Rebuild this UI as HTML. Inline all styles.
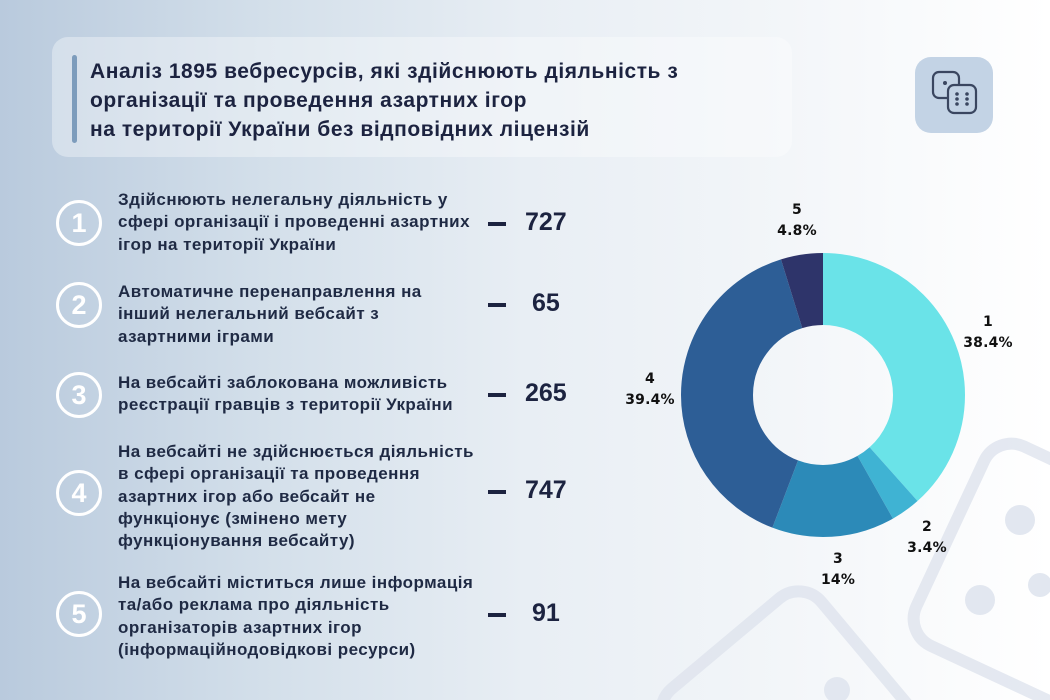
<!DOCTYPE html>
<html><head><meta charset="utf-8"><style>
html,body{margin:0;padding:0;width:1050px;height:700px;overflow:hidden}
body{position:relative;font-family:"Liberation Sans","DejaVu Sans",sans-serif;color:#1c2340;
background:linear-gradient(90deg,#b9cadd 0%,#d3dfea 25%,#e8eef4 50%,#f3f6f9 75%,#ffffff 100%);}
.hdr{position:absolute;left:52px;top:37px;width:740px;height:120px;border-radius:16px;background:rgba(255,255,255,0.35)}
.bar{position:absolute;left:72px;top:55px;width:5px;height:88px;border-radius:3px;background:#7d9cbc}
.title{position:absolute;left:90px;top:57px;font-size:21px;letter-spacing:0.55px;font-weight:bold;line-height:29px;color:#1c2340;white-space:nowrap}
.t{position:absolute;left:118px;font-size:17px;letter-spacing:0.45px;font-weight:bold;line-height:22.3px;color:#1f2a44;white-space:nowrap}
.c{position:absolute;left:56px;width:40px;height:40px;border:3px solid #fff;border-radius:50%;color:#fff;font-size:27px;font-weight:bold;text-align:center;line-height:40px}
.d{position:absolute;left:488px;width:18px;height:4px;background:#1c2340}
.n{position:absolute;left:525px;font-size:25px;font-weight:bold;color:#1c2340}
.lb{position:absolute;font-family:"DejaVu Sans",sans-serif;font-weight:bold;font-size:14px;line-height:21px;text-align:center;color:#111;letter-spacing:0.2px}
</style></head><body>
<svg style="position:absolute;left:0;top:0" width="1050" height="700">
 <g fill="none" stroke="#dfe4ee" stroke-width="12" opacity="0.8">
  <rect x="940" y="470" width="220" height="220" rx="30" transform="rotate(25 1050 580)"/>
  <rect x="690" y="620" width="200" height="200" rx="30" transform="rotate(-40 790 720)"/>
 </g>
 <g fill="#e2e7f0">
  <circle cx="1020" cy="520" r="15"/><circle cx="980" cy="600" r="15"/><circle cx="1040" cy="585" r="12"/><circle cx="837" cy="690" r="13"/>
 </g>
 <g transform="translate(823 395) rotate(-90)" fill="none" stroke-width="72">
  <circle r="106" stroke="#6ae3e8" stroke-dasharray="255.7 666"/>
  <circle r="106" stroke="#3fb3d3" stroke-dasharray="22.6 666" stroke-dashoffset="-255.7"/>
  <circle r="106" stroke="#2c8ab8" stroke-dasharray="93.2 666" stroke-dashoffset="-278.3"/>
  <circle r="106" stroke="#2d5e96" stroke-dasharray="262.4 666" stroke-dashoffset="-371.5"/>
  <circle r="106" stroke="#2e346a" stroke-dasharray="32.1 666" stroke-dashoffset="-633.9"/>
 </g>
 <rect x="915" y="57" width="78" height="76" rx="16" fill="#c3d3e5"/>
 <g fill="none" stroke="#3a4660" stroke-width="2.2">
  <rect x="933" y="72" width="26" height="26" rx="6"/>
  <rect x="948" y="85" width="28" height="28" rx="6" fill="#c3d3e5"/>
 </g>
 <g fill="#3a4660"><circle cx="945" cy="83" r="2"/><circle cx="957" cy="94" r="1.8"/><circle cx="967" cy="94" r="1.8"/><circle cx="957" cy="99" r="1.8"/><circle cx="967" cy="99" r="1.8"/><circle cx="957" cy="104" r="1.8"/><circle cx="967" cy="104" r="1.8"/></g>
</svg>
<div class="hdr"></div><div class="bar"></div>
<div class="title">Аналіз 1895 вебресурсів, які здійснюють діяльність з<br>організації та проведення азартних ігор<br>на території України без відповідних ліцензій</div>

<div class="c" style="top:200px">1</div>
<div class="t" style="top:189px">Здійснюють нелегальну діяльність у<br>сфері організації і проведенні азартних<br>ігор на території України</div>
<div class="d" style="top:222px"></div><div class="n" style="top:208px">727</div>

<div class="c" style="top:282px">2</div>
<div class="t" style="top:281px">Автоматичне перенаправлення на<br>інший нелегальний вебсайт з<br>азартними іграми</div>
<div class="d" style="top:303px"></div><div class="n" style="top:289px;left:532px">65</div>

<div class="c" style="top:372px">3</div>
<div class="t" style="top:372px">На вебсайті заблокована можливість<br>реєстрації гравців з території України</div>
<div class="d" style="top:393px"></div><div class="n" style="top:379px">265</div>

<div class="c" style="top:470px">4</div>
<div class="t" style="top:441px">На вебсайті не здійснюється діяльність<br>в сфері організації та проведення<br>азартних ігор або вебсайт не<br>функціонує (змінено мету<br>функціонування вебсайту)</div>
<div class="d" style="top:490px"></div><div class="n" style="top:476px">747</div>

<div class="c" style="top:591px">5</div>
<div class="t" style="top:572px">На вебсайті міститься лише інформація<br>та/або реклама про діяльність<br>організаторів азартних ігор<br>(інформаційнодовідкові ресурси)</div>
<div class="d" style="top:613px"></div><div class="n" style="top:599px;left:532px">91</div>

<div class="lb" style="left:762px;top:200px;width:70px">5<br>4.8%</div>
<div class="lb" style="left:953px;top:312px;width:70px">1<br>38.4%</div>
<div class="lb" style="left:615px;top:369px;width:70px">4<br>39.4%</div>
<div class="lb" style="left:892px;top:517px;width:70px">2<br>3.4%</div>
<div class="lb" style="left:803px;top:549px;width:70px">3<br>14%</div>
</body></html>
